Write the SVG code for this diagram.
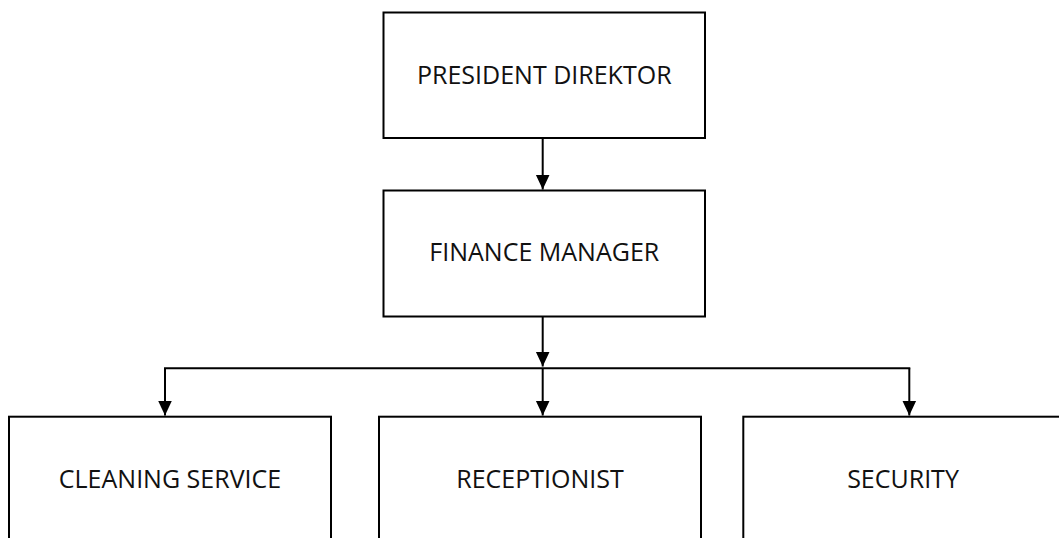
<svg xmlns="http://www.w3.org/2000/svg" width="1059" height="538" viewBox="0 0 1059 538">
  <style>
    .box { fill: #ffffff; stroke: #000000; stroke-width: 2; }
    .lbl { font-family: "Open Sans", "Noto Sans", "Liberation Sans", sans-serif; font-size: 25px; fill: #111111; text-anchor: middle; }
    .conn { fill: none; stroke: #000000; stroke-width: 2; }
  </style>
  <defs>
    <marker id="arrow" markerUnits="userSpaceOnUse" markerWidth="16" markerHeight="16" viewBox="0 0 16 16" refX="15" refY="8" orient="auto">
      <path d="M0,1 L15,8 L0,15 Z" fill="#000000"/>
    </marker>
  </defs>
  <rect width="1059" height="538" fill="#ffffff"/>

  <g id="connectors">
    <line class="conn" x1="542.7" y1="138" x2="542.7" y2="189.5" marker-end="url(#arrow)"/>
    <line class="conn" x1="542.7" y1="316.5" x2="542.7" y2="366.5" marker-end="url(#arrow)"/>
    <line class="conn" x1="164" y1="368.3" x2="910.3" y2="368.3"/>
    <line class="conn" x1="165" y1="368.3" x2="165" y2="415.5" marker-end="url(#arrow)"/>
    <line class="conn" x1="542.7" y1="368.3" x2="542.7" y2="415.5" marker-end="url(#arrow)"/>
    <line class="conn" x1="909.3" y1="368.3" x2="909.3" y2="415.5" marker-end="url(#arrow)"/>
  </g>

  <g id="node-president">
    <rect class="box" x="383.5" y="12.5" width="321.5" height="125.5"/>
    <text class="lbl" x="544.3" y="84">PRESIDENT DIREKTOR</text>
  </g>
  <g id="node-finance">
    <rect class="box" x="383.5" y="190.5" width="321.5" height="126"/>
    <text class="lbl" x="544.3" y="261">FINANCE MANAGER</text>
  </g>
  <g id="node-cleaning">
    <rect class="box" x="9" y="416.7" width="322" height="160"/>
    <text class="lbl" x="170" y="488">CLEANING SERVICE</text>
  </g>
  <g id="node-receptionist">
    <rect class="box" x="379" y="416.7" width="322" height="160"/>
    <text class="lbl" x="540" y="488">RECEPTIONIST</text>
  </g>
  <g id="node-security">
    <rect class="box" x="743.3" y="416.7" width="322" height="160"/>
    <text class="lbl" x="903" y="488">SECURITY</text>
  </g>
</svg>
